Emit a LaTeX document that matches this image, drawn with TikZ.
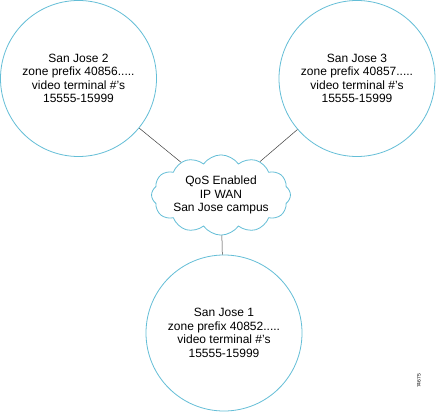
\documentclass[tikz,border=0pt]{standalone}
\usepackage{fontspec}
\setmainfont{Liberation Sans}
\usetikzlibrary{shapes.symbols}
\definecolor{ringblue}{RGB}{100,190,215}
\begin{document}
\begin{tikzpicture}[x=1pt,y=-1pt,
  site/.style={circle,draw,color=ringblue,text=black,line width=0.8pt,minimum size=156pt,inner sep=0pt,align=center,font=\fontsize{12}{13.5}\selectfont},
  wan/.style={cloud,draw,color=ringblue,text=black,line width=0.8pt,cloud puffs=12,cloud puff arc=110,aspect=2.1,minimum width=127pt,minimum height=60pt,inner sep=0pt,align=center,font=\fontsize{12}{13.5}\selectfont},
  link/.style={draw,color=black!75,line width=0.5pt}]
\useasboundingbox[fill=white] (0,0) rectangle (436,414);
\node[site] (sj2) at (78.5,78.5) {San Jose 2\\zone prefix 40856.....\\video terminal \#'s\\15555-15999};
\node[site] (sj3) at (357,78.5) {San Jose 3\\zone prefix 40857.....\\video terminal \#'s\\15555-15999};
\node[site] (sj1) at (224,333) {San Jose 1\\zone prefix 40852.....\\video terminal \#'s\\15555-15999};
\node[wan] (cloud) at (221,195) {QoS Enabled\\IP WAN\\San Jose campus};
\draw[link] (sj2) -- (cloud);
\draw[link] (sj3) -- (cloud);
\draw[link] (cloud) -- (sj1);
\node[rotate=90,font=\fontsize{5}{6}\selectfont,inner sep=0pt] (id) at (419,381) {74675};
\end{tikzpicture}
\end{document}
